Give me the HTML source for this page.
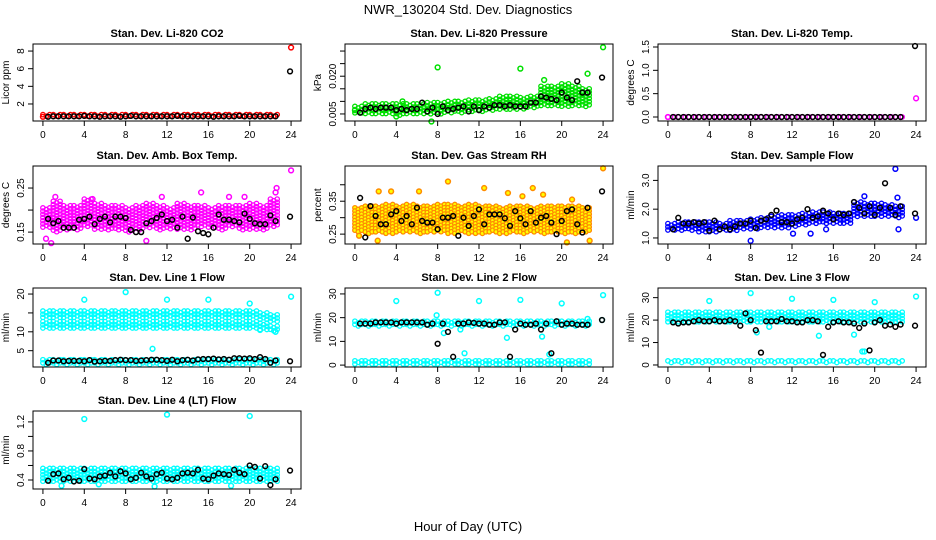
<!DOCTYPE html>
<html><head><meta charset="utf-8"><style>
html,body{margin:0;padding:0;background:#fff;}
svg{display:block;font-family:"Liberation Sans",Arial,sans-serif;}
</style></head><body>
<svg id="chart" width="936" height="540" viewBox="0 0 936 540" xmlns="http://www.w3.org/2000/svg">
<rect width="936" height="540" fill="#fff"/>
<text x="468" y="14" font-size="13" text-anchor="middle">NWR_130204 Std. Dev. Diagnostics</text>
<text x="468" y="531" font-size="13" text-anchor="middle">Hour of Day (UTC)</text>
</svg>
<script>
// ---- data ----
const xTicks = [0,4,8,12,16,20,24];
const blackTimes = [0.5,1,1.5,2,2.5,3,3.5,4,4.5,5,5.5,6,6.5,7,7.5,8,8.5,9,9.5,10,10.5,11,11.5,12,12.5,13,13.5,14,14.5,15,15.5,16,16.5,17,17.5,18,18.5,19,19.5,20,20.5,21,21.5,22,22.5];
const bandHours = [0,1,2,3,4,5,6,7,8,9,10,11,12,13,14,15,16,17,18,19,20,21,22];

const co2Black = [0.55,0.6,0.6,0.6,0.6,0.6,0.6,0.65,0.6,0.6,0.55,0.6,0.6,0.6,0.55,0.6,0.65,0.6,0.6,0.6,0.6,0.6,0.6,0.6,0.6,0.65,0.6,0.6,0.6,0.6,0.6,0.6,0.55,0.6,0.6,0.6,0.6,0.65,0.6,0.6,0.6,0.6,0.6,0.6,0.6];
const co2Low = [0.45,0.45,0.45,0.45,0.45,0.45,0.45,0.45,0.45,0.45,0.45,0.45,0.45,0.45,0.45,0.45,0.45,0.45,0.45,0.45,0.45,0.45,0.45];
const co2High = [0.8,0.8,0.8,0.8,0.8,0.8,0.8,0.8,0.8,0.8,0.8,0.8,0.8,0.8,0.8,0.8,0.8,0.8,0.8,0.8,0.8,0.8,0.8];
const co2OutX = [24,0]; const co2OutY = [8.4,0.55];

const presBlack = [0.0055,0.007,0.0075,0.007,0.0075,0.0075,0.0075,0.0065,0.007,0.0065,0.007,0.007,0.0095,0.006,0.0075,0.005,0.008,0.0065,0.007,0.0075,0.008,0.006,0.008,0.0065,0.008,0.0075,0.0085,0.0085,0.008,0.0085,0.008,0.008,0.008,0.0095,0.0095,0.012,0.0115,0.011,0.0105,0.0135,0.0115,0.0105,0.018,0.0135,0.0135];
const presLow = [0.005,0.005,0.005,0.005,0.0045,0.005,0.005,0.005,0.005,0.005,0.0055,0.006,0.006,0.006,0.0065,0.0065,0.007,0.007,0.008,0.008,0.008,0.008,0.008];
const presHigh = [0.008,0.009,0.009,0.009,0.009,0.009,0.009,0.0095,0.0095,0.01,0.01,0.0105,0.0105,0.011,0.012,0.012,0.0115,0.012,0.016,0.016,0.017,0.016,0.015];
const presOutX = [8,16,18.3,22.5,24,0,4.6,7.4,4]; const presOutY = [0.0235,0.023,0.0185,0.021,0.0315,0.0065,0.01,0.002,0.004];

const tempBlack = blackTimes.map(()=>0.0);
const tempLow = bandHours.map(()=>0.0);
const tempHigh = bandHours.map(()=>0.0);
const tempOutX = [0,24]; const tempOutY = [0.0,0.4];

const ambBlack = [0.18,0.17,0.175,0.16,0.16,0.16,0.178,0.18,0.185,0.168,0.18,0.185,0.172,0.185,0.185,0.182,0.155,0.15,0.15,0.17,0.175,0.182,0.19,0.175,0.178,0.16,0.185,0.135,0.183,0.152,0.148,0.145,0.16,0.19,0.178,0.178,0.175,0.172,0.192,0.18,0.17,0.168,0.168,0.188,0.175];
const ambLow = [0.16,0.15,0.155,0.155,0.16,0.155,0.155,0.155,0.15,0.155,0.16,0.155,0.155,0.155,0.155,0.16,0.16,0.155,0.16,0.155,0.155,0.155,0.16];
const ambHigh = [0.205,0.22,0.21,0.21,0.225,0.215,0.21,0.21,0.205,0.21,0.215,0.21,0.205,0.215,0.21,0.21,0.205,0.21,0.21,0.21,0.215,0.21,0.225];
const ambOutX = [24,22.6,22.5,0.3,0.8,10,15.3,1.2,18,19.5,11.5,4.8]; const ambOutY = [0.29,0.25,0.24,0.135,0.125,0.13,0.24,0.23,0.23,0.23,0.23,0.225];

const rhBlack = [0.36,0.24,0.335,0.305,0.28,0.28,0.31,0.32,0.29,0.305,0.28,0.33,0.29,0.285,0.285,0.265,0.3,0.30,0.305,0.245,0.30,0.275,0.305,0.325,0.28,0.31,0.31,0.31,0.298,0.275,0.32,0.298,0.28,0.32,0.285,0.30,0.305,0.285,0.25,0.29,0.32,0.325,0.28,0.255,0.33];
const rhLow = [0.255,0.25,0.255,0.25,0.255,0.255,0.25,0.255,0.255,0.25,0.255,0.25,0.25,0.255,0.25,0.255,0.25,0.255,0.25,0.255,0.25,0.25,0.255];
const rhHigh = [0.33,0.335,0.335,0.34,0.335,0.34,0.335,0.335,0.34,0.34,0.335,0.34,0.335,0.335,0.33,0.335,0.335,0.33,0.335,0.335,0.335,0.335,0.33];
const rhOutX = [9,24,2.3,3.5,6.2,12.5,14.8,17.2,18.2,16.2,2.2,21,22.7,20.5,0.4]; const rhOutY = [0.41,0.45,0.38,0.38,0.38,0.39,0.375,0.39,0.37,0.365,0.23,0.355,0.23,0.225,0.245];

const flowBlack = [1.3,1.7,1.5,1.5,1.55,1.5,1.55,1.25,1.6,1.3,1.4,1.3,1.4,1.5,1.5,1.6,1.35,1.6,1.65,1.8,1.95,1.55,1.55,1.5,1.65,1.7,2.0,1.7,1.75,1.95,1.85,1.65,1.85,1.8,1.85,2.25,2.05,1.85,2.1,1.8,2.05,2.9,2.05,1.8,2.1];
const flowLow = [1.25,1.25,1.25,1.2,1.2,1.25,1.25,1.3,1.3,1.35,1.35,1.35,1.4,1.45,1.5,1.5,1.5,1.5,1.75,1.75,1.75,1.75,1.7];
const flowHigh = [1.5,1.55,1.55,1.55,1.55,1.5,1.6,1.6,1.65,1.7,1.75,1.8,1.8,1.85,1.9,1.9,1.85,1.85,2.25,2.2,2.2,2.15,2.1];
const flowOutX = [22,24,8,19,22.2,22.3,12.1,13.8,15.3]; const flowOutY = [3.4,1.7,0.9,2.45,2.4,1.3,1.15,1.15,1.3];

const l1Black = [1.8,2.4,2.4,2.2,2.3,2.3,2.3,2.2,2.5,2.1,2.2,2.3,2.3,2.5,2.6,2.5,2.5,2.3,2.4,2.5,2.6,2.6,2.5,2.3,2.6,2.2,2.5,2.6,2.4,2.7,2.8,2.8,2.9,2.7,2.8,2.6,3.0,3.0,2.9,3.0,2.8,3.3,2.8,1.8,2.4];
const l1LowA = [13.5,13.5,13.5,13.5,13.5,13.5,13.5,13.5,13.5,13.5,13.5,13.5,13.5,13.5,13.5,13.5,13.5,13.5,13.5,13.5,13.5,13,12.5];
const l1HighA = [15.5,15.5,15.5,15.5,15.5,15.5,15.5,15.5,15.5,15.5,15.5,15.5,15.5,15.5,15.5,15.5,15.5,15.5,15.5,15.5,15.5,15,14.5];
const l1LowB = [11,11,11,11,11,11,11,11,11,11,11,11,11,11,11,11,11,11,11,11,11,10.5,10];
const l1HighB = [12.7,12.7,12.7,12.7,12.7,12.7,12.7,12.7,12.7,12.7,12.7,12.7,12.7,12.7,12.7,12.7,12.7,12.7,12.7,12.7,12.7,12.3,11.5];
const l1LowC = bandHours.map(()=>1.0);
const l1HighC = bandHours.map(()=>2.6);
const l1OutX = [4,8,12,16,20,24,10.6,22.5,21]; const l1OutY = [18.5,20.5,18.5,18.5,17.5,19.3,5.5,10,10.5];

const l2Black = [17.5,17.5,17.5,18,18,18,18,17.5,18,18,18,18,18,17,17.5,9,17.5,14,3.5,17.5,17.5,18,17.8,17.5,17.5,17,17,18,18,3.5,15,17.5,17,17,17.5,15,17.5,5,18.5,17,17.5,17.5,17,17,17];
const l2LowA = bandHours.map(()=>16.5);
const l2HighA = bandHours.map(()=>18.5);
const l2LowC = bandHours.map(()=>0.3);
const l2HighC = bandHours.map(()=>1.8);
const l2OutX = [4,8,12,16,20,24,10.6,14.7,18.1,8.6,10.2,22.5,18.8,7.9,23.9]; const l2OutY = [27,30.5,27,27.5,26,29.5,5,11.5,12,13.5,15,19.5,4.5,21,19];

const l3Black = [19,18.5,19,19,19.5,20,19.5,19.5,20,19.5,19.5,20,19.5,17.5,23,20,15.5,5.5,19.5,19.5,19.5,20.5,19.5,19.5,19,19,20,20,19.5,4.5,17,19,19.5,19,19,18.5,16.5,18.5,6.5,19,20,17.5,18,17,18];
const l3LowA = bandHours.map(()=>19);
const l3HighA = bandHours.map(()=>23.5);
const l3LowC = bandHours.map(()=>0.5);
const l3HighC = bandHours.map(()=>1.8);
const l3OutX = [4,8,12,16,20,24,14.6,18,19,8.6,9.8,18.8]; const l3OutY = [28.5,32,29.5,29,28,30.5,13,13.5,6,14.5,17,6];

const l4Black = [0.39,0.48,0.49,0.41,0.43,0.38,0.39,0.55,0.42,0.41,0.45,0.46,0.5,0.45,0.52,0.49,0.41,0.43,0.5,0.45,0.42,0.48,0.5,0.42,0.41,0.43,0.49,0.5,0.49,0.54,0.42,0.41,0.46,0.49,0.48,0.47,0.54,0.5,0.48,0.6,0.58,0.42,0.59,0.33,0.41];
const l4Low = bandHours.map(()=>0.37);
const l4High = bandHours.map(()=>0.56);
const l4OutX = [4,12,20,1.8,18.2,10.8,5.4]; const l4OutY = [1.24,1.3,1.28,0.32,0.32,0.31,0.34];

const panels = [
 {name:'co2',title:'Stan. Dev. Li-820 CO2',yl:'Licor ppm',col:0,row:0,dom:[0.07,8.8],ticks:[2,4,6,8],labels:['2','4','6','8'],color:'#ff0000',bands:[[co2Low,co2High]],black:co2Black,last:5.7,ox:co2OutX,oy:co2OutY},
 {name:'pressure',title:'Stan. Dev. Li-820 Pressure',yl:'kPa',col:1,row:0,dom:[0.0022,0.0328],ticks:[0.005,0.01,0.015,0.02,0.025,0.03],labels:['0.005','','','0.020','',''],color:'#00e000',bands:[[presLow,presHigh]],black:presBlack,last:0.0195,ox:presOutX,oy:presOutY},
 {name:'temp',title:'Stan. Dev. Li-820 Temp.',yl:'degrees C',col:2,row:0,dom:[-0.086,1.564],ticks:[0,0.5,1,1.5],labels:['0.0','0.5','1.0','1.5'],color:'#ff00ff',bands:[[tempLow,tempHigh]],black:tempBlack,last:1.52,ox:tempOutX,oy:tempOutY},
 {name:'ambbox',title:'Stan. Dev. Amb. Box Temp.',yl:'degrees C',col:0,row:1,dom:[0.123,0.30],ticks:[0.15,0.2,0.25],labels:['0.15','','0.25'],color:'#ff00ff',bands:[[ambLow,ambHigh]],black:ambBlack,last:0.185,ox:ambOutX,oy:ambOutY},
 {name:'rh',title:'Stan. Dev. Gas Stream RH',yl:'percent',col:1,row:1,dom:[0.22,0.457],ticks:[0.25,0.3,0.35,0.4],labels:['0.25','','0.35',''],color:'#ff8c00',fill:'#ffff00',bands:[[rhLow,rhHigh]],black:rhBlack,last:0.38,ox:rhOutX,oy:rhOutY},
 {name:'sampleflow',title:'Stan. Dev. Sample Flow',yl:'ml/min',col:2,row:1,dom:[0.79,3.5],ticks:[1,2,3],labels:['1.0','2.0','3.0'],color:'#0000ff',bands:[[flowLow,flowHigh]],black:flowBlack,last:1.85,ox:flowOutX,oy:flowOutY},
 {name:'line1',title:'Stan. Dev. Line 1 Flow',yl:'ml/min',col:0,row:2,dom:[0.68,21.6],ticks:[5,10,15,20],labels:['5','10','','20'],color:'#00ffff',bands:[[l1LowA,l1HighA],[l1LowB,l1HighB],[l1LowC,l1HighC]],black:l1Black,last:2.2,ox:l1OutX,oy:l1OutY},
 {name:'line2',title:'Stan. Dev. Line 2 Flow',yl:'ml/min',col:1,row:2,dom:[-0.8,32.5],ticks:[0,10,20,30],labels:['0','10','20','30'],color:'#00ffff',bands:[[l2LowA,l2HighA],[l2LowC,l2HighC]],black:l2Black,last:19,ox:l2OutX,oy:l2OutY},
 {name:'line3',title:'Stan. Dev. Line 3 Flow',yl:'ml/min',col:2,row:2,dom:[-0.9,34.3],ticks:[0,10,20,30],labels:['0','10','20','30'],color:'#00ffff',bands:[[l3LowA,l3HighA],[l3LowC,l3HighC]],black:l3Black,last:17.5,ox:l3OutX,oy:l3OutY},
 {name:'line4',title:'Stan. Dev. Line 4 (LT) Flow',yl:'ml/min',col:0,row:3,dom:[0.276,1.35],ticks:[0.4,0.6,0.8,1.0,1.2],labels:['0.4','','0.8','','1.2'],color:'#00ffff',bands:[[l4Low,l4High]],black:l4Black,last:0.53,ox:l4OutX,oy:l4OutY}
];

const NS='http://www.w3.org/2000/svg';
const svg=document.getElementById('chart');
const colLeft=[33,345,658], W=268;
const rowTop=[44,166,288,411], rowBot=[121,244,367,489];
function mk(tag,attrs,parent){const e=document.createElementNS(NS,tag);for(const k in attrs)e.setAttribute(k,attrs[k]);parent.appendChild(e);return e;}

panels.forEach(p=>{
  const L=colLeft[p.col], T=rowTop[p.row], B=rowBot[p.row], R=L+W;
  const xs=h=>L+(h+0.96)/25.92*W;
  const ys=v=>B-(v-p.dom[0])/(p.dom[1]-p.dom[0])*(B-T);
  const g=mk('g',{},svg);
  
  
  const t=mk('text',{x:(L+R)/2,y:T-7,'font-size':11,'font-weight':'bold','text-anchor':'middle'},g);
  t.textContent=p.title;
  
  
  const bg=mk('g',{fill:p.fill||'none',stroke:p.color,'stroke-width':1.3},g);
  
  
  p.bands.forEach(([lo,hi])=>{
    bandHours.forEach((h,i)=>{
      const y1=ys(hi[i]), y0=ys(lo[i]);
      let k=0;
      for(let x=xs(h);x<xs(h+1)-0.5;x+=3.4,k++){
        const off=(k%2)?1.6:0;
        for(let y=y1+off;y<=y0+0.1;y+=3.2){
          mk('circle',{cx:x.toFixed(1),cy:y.toFixed(1),r:2.2},bg);
        }
      }
    });
  });
  p.ox.forEach((h,i)=>{
    const c=mk('circle',{cx:xs(h),cy:ys(p.oy[i]),r:2.4,fill:p.fill||'none',stroke:p.color,'stroke-width':1.5},g);
    
    
  });
  const kg=mk('g',{fill:'none',stroke:'#000','stroke-width':1.5},g);
  
  
  blackTimes.forEach((h,i)=>{
    const c=mk('circle',{cx:xs(h),cy:ys(p.black[i]),r:2.4},kg);
    
    
  });
  const lc=mk('circle',{cx:xs(23.9),cy:ys(p.last),r:2.4},kg);
  
  
  const box=mk('rect',{x:L,y:T,width:W,height:B-T,fill:'none',stroke:'#000','stroke-width':1},g);
  
  
  const xa=mk('g',{stroke:'#000','stroke-width':1},g);
  
  
  mk('line',{x1:xs(0),x2:xs(24),y1:B,y2:B},xa);
  xTicks.forEach(v=>{
    mk('line',{x1:xs(v),x2:xs(v),y1:B,y2:B+5},xa);
    const tl=mk('text',{x:xs(v),y:B+17,'font-size':10,'text-anchor':'middle',stroke:'none',fill:'#000'},g);
    tl.textContent=v;
    
    
  });
  const ya=mk('g',{stroke:'#000','stroke-width':1},g);
  
  
  mk('line',{x1:L,x2:L,y1:ys(p.ticks[0]),y2:ys(p.ticks[p.ticks.length-1])},ya);
  p.ticks.forEach((v,i)=>{
    const y=ys(v);
    mk('line',{x1:L-5,x2:L,y1:y,y2:y},ya);
    if(p.labels[i]){
      const tl=mk('text',{x:L-9,y:y,'font-size':10,'text-anchor':'middle',transform:`rotate(-90 ${L-9} ${y})`},g);
      tl.textContent=p.labels[i];
      
      
    }
  });
  const yt=mk('text',{x:L-24,y:(T+B)/2,'font-size':10,'text-anchor':'middle',transform:`rotate(-90 ${L-24} ${(T+B)/2})`},g);
  yt.textContent=p.yl;
  
  
});
</script>
</body></html>
